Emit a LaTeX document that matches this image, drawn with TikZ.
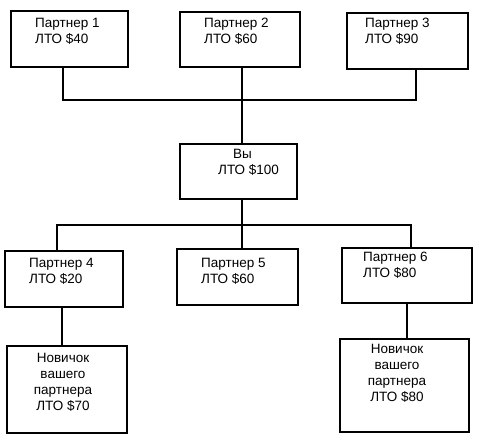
\documentclass[tikz,border=0pt]{standalone}
\usepackage{fontspec}
\setmainfont{Liberation Sans}
\tikzset{box/.style={draw, line width=1.8pt, inner sep=0pt},
  link/.style={line width=1.8pt},
  lbl/.style={inner sep=0pt, align=left, font=\fontsize{13.5}{16}\selectfont}}
\begin{document}
\begin{tikzpicture}[x=1pt,y=-1pt]
    \useasboundingbox (0,0) rectangle (479,440);
    \node[box, minimum width=117, minimum height=56] (p1) at (69.5,39) {};
    \node[box, minimum width=120, minimum height=55] (p2) at (240,39.5) {};
    \node[box, minimum width=121, minimum height=56] (p3) at (407.5,41) {};
    \node[box, minimum width=117, minimum height=55] (you) at (238.5,171.5) {};
    \node[box, minimum width=118, minimum height=56] (p4) at (64,279) {};
    \node[box, minimum width=121, minimum height=56] (p5) at (237.5,277) {};
    \node[box, minimum width=130, minimum height=55] (p6) at (407,275.5) {};
    \node[box, minimum width=120, minimum height=87] (n1) at (67,389.5) {};
    \node[box, minimum width=129, minimum height=93] (n2) at (404.5,385.5) {};

    \node[lbl, anchor=north west] (p1t) at (35,18) {Партнер 1\\ЛТО \$40};
    \node[lbl, anchor=north west] (p2t) at (204,18) {Партнер 2\\ЛТО \$60};
    \node[lbl, anchor=north west] (p3t) at (365,18) {Партнер 3\\ЛТО \$90};
    \node[lbl, anchor=north west] (yout) at (218,149) {\hspace{15pt}Вы\\ЛТО \$100};
    \node[lbl, anchor=north west] (p4t) at (29,258) {Партнер 4\\ЛТО \$20};
    \node[lbl, anchor=north west] (p5t) at (201,258) {Партнер 5\\ЛТО \$60};
    \node[lbl, anchor=north west] (p6t) at (363,252) {Партнер 6\\ЛТО \$80};
    \node[lbl, align=center, anchor=north] (n1t) at (63,353) {Новичок\\вашего\\партнера\\ЛТО \$70};
    \node[lbl, align=center, anchor=north] (n2t) at (397,344) {Новичок\\вашего\\партнера\\ЛТО \$80};

    \coordinate (b1) at (63,100);
    \coordinate (b3) at (416,100);
    \coordinate (tr) at (242,100);
    \coordinate (c4) at (57,225);
    \coordinate (c6) at (411,225);
    \coordinate (d1) at (62,330);
    \coordinate (d2) at (407,320);
    \draw[link] (b1 |- p1.south) -- (b1) -- (b3) -- (b3 |- p3.south);
    \draw[link] (tr |- p2.south) -- (tr |- you.north);
    \draw[link] (c4 |- p4.north) -- (c4) -- (c6) -- (c6 |- p6.north);
    \draw[link] (tr |- you.south) -- (tr |- p5.north);
    \draw[link] (d1 |- p4.south) -- (d1 |- n1.north);
    \draw[link] (d2 |- p6.south) -- (d2 |- n2.north);
\end{tikzpicture}
\end{document}
